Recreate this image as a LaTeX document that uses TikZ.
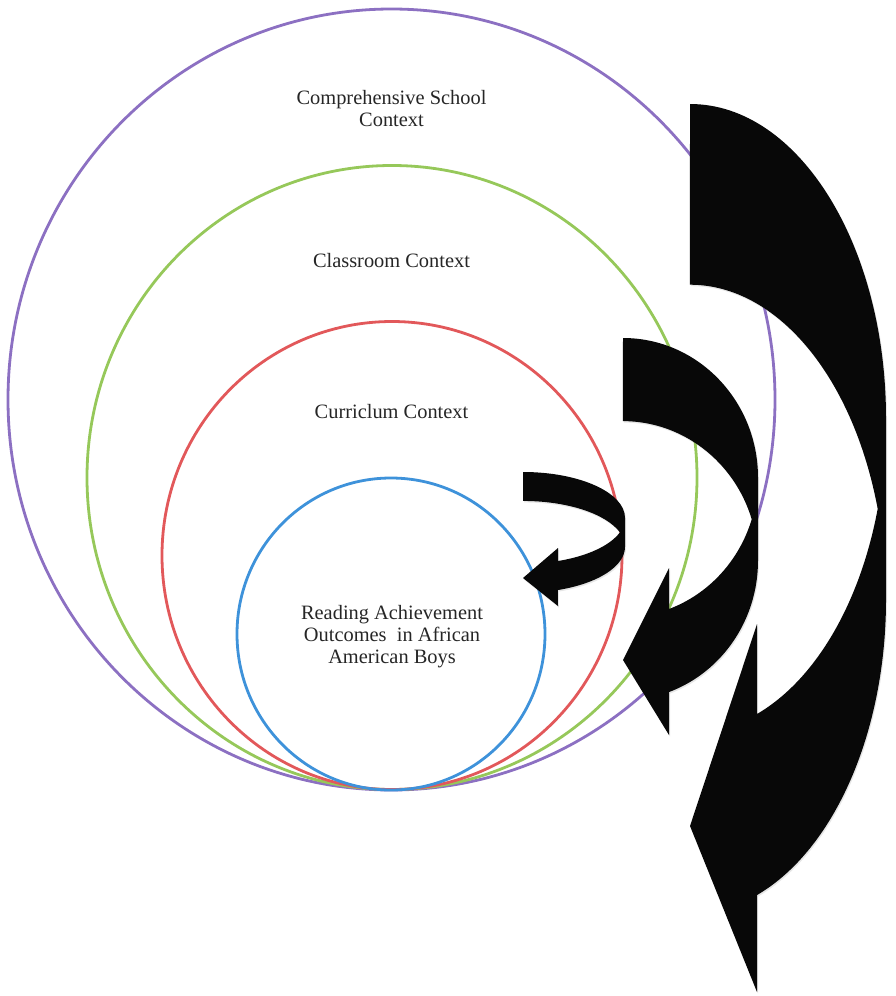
\documentclass[tikz,border=0pt]{standalone}
\usepackage{fontspec}
\setmainfont{Liberation Serif}
\usetikzlibrary{shadows}
\definecolor{ringpurple}{RGB}{140,112,194}
\definecolor{ringgreen}{RGB}{150,200,90}
\definecolor{ringred}{RGB}{226,88,90}
\definecolor{ringblue}{RGB}{62,146,218}
\tikzset{
	ring/.style={line width=2.8pt},
	ctxtext/.style={font=\fontsize{20.4}{22}\selectfont, text=black!85, align=center, inner sep=0pt},
	turnarrow/.style={fill=black!97, drop shadow={opacity=0.2, shadow xshift=1pt, shadow yshift=-1.5pt}},
	bigturn/.style={x radius=196, y radius=314.5},
	midturn/.style={x radius=135, y radius=139.7},
	smallturn/.style={x radius=102, y radius=45.9}
}
\begin{document}
\begin{tikzpicture}[x=1pt, y=-1pt, line join=round]
	\useasboundingbox (0,0) rectangle (896,996);
	% nested contexts
	\draw[ring, ringpurple] (391.5,399.5) ellipse [x radius=383.5, y radius=390.5];
	\draw[ring, ringgreen] (392,477.5) ellipse [x radius=305, y radius=312];
	\draw[ring, ringred] (392,555.5) ellipse [x radius=230, y radius=234];
	\draw[ring, ringblue] (391,634) ellipse [x radius=154, y radius=156];
	% curved arrows, outer to inner
	\fill[turnarrow] (690,104) arc[bigturn, start angle=-90, end angle=0] -- (886,599.5)
		arc[bigturn, start angle=0, end angle=70]
		-- (757,992) -- (690,826) -- (757,624) -- (757,714)
		arc[bigturn, start angle=70, end angle=16.7]
		arc[bigturn, start angle=-16.7, end angle=-90] -- cycle;
	\fill[turnarrow] (623,338) arc[midturn, start angle=-90, end angle=0] -- (758,560.7)
		arc[midturn, start angle=0, end angle=70]
		-- (669,735) -- (623,660) -- (669,568) -- (669,609)
		arc[midturn, start angle=70, end angle=17.3]
		arc[midturn, start angle=-17.3, end angle=-90] -- cycle;
	\fill[turnarrow] (523,472) arc[smallturn, start angle=-90, end angle=0] -- (625,546.9)
		arc[smallturn, start angle=0, end angle=70]
		-- (558,606) -- (523,578) -- (558,548) -- (558,561)
		arc[smallturn, start angle=70, end angle=18.4]
		arc[smallturn, start angle=-18.4, end angle=-90] -- cycle;
	% labels (base = last line)
	\node[ctxtext, anchor=base] (school) at (391.5,126) {Comprehensive School\\Context};
	\node[ctxtext, anchor=base] (classroom) at (391.5,267) {Classroom Context};
	\node[ctxtext, anchor=base] (curriculum) at (391.5,418) {Curriclum Context};
	\node[ctxtext, anchor=base] (outcomes) at (392,663) {Reading Achievement\\Outcomes\ \ in African\\American Boys};
\end{tikzpicture}
\end{document}
